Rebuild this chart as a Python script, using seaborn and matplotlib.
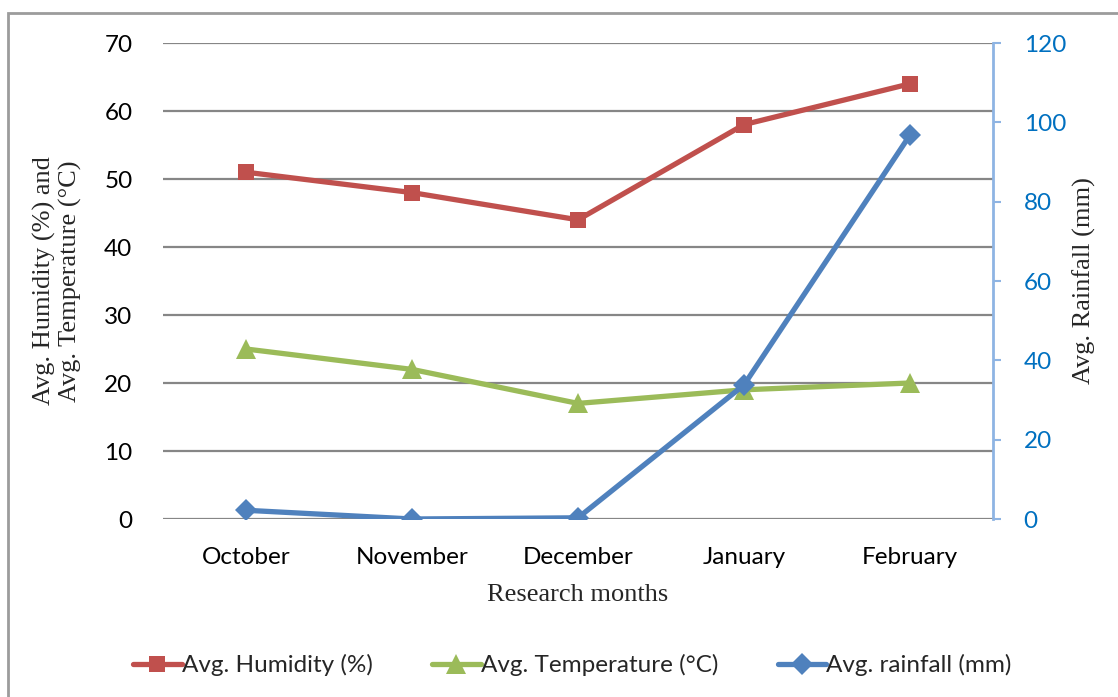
import matplotlib
matplotlib.use("Agg")
import matplotlib.pyplot as plt
import seaborn as sns
import pandas as pd
from matplotlib.patches import Rectangle
from matplotlib.lines import Line2D

months = ["October", "November", "December", "January", "February"]
humidity = [51, 48, 44, 58, 64]
temperature = [25, 22, 17, 19, 20]
rainfall = [2.2, 0.0, 0.3, 33.8, 96.8]

left_ticks = [0, 10, 20, 30, 40, 50, 60, 70]
right_ticks = [0, 20, 40, 60, 80, 100, 120]

RED = "#C0504D"
GREEN = "#9BBB59"
BLUE = "#4F81BD"

sns.set_theme(style="white")
plt.rcParams["font.family"] = ["Lato", "DejaVu Sans"]

df = pd.DataFrame({"month": months, "humidity": humidity,
                   "temperature": temperature, "rainfall": rainfall})

fig = plt.figure(figsize=(11.18, 6.97), dpi=100)
ax = fig.add_axes([163/1118, 1-519/697, 830/1118, 476/697])
ax2 = ax.twinx()

sns.lineplot(data=df, x="month", y="humidity", ax=ax, color=RED, lw=3.8,
             marker="s", markersize=12, markeredgewidth=0, sort=False, zorder=3)
sns.lineplot(data=df, x="month", y="temperature", ax=ax, color=GREEN, lw=3.8,
             marker="^", markersize=14, markeredgewidth=0, sort=False, zorder=3)
sns.lineplot(data=df, x="month", y="rainfall", ax=ax2, color=BLUE, lw=3.8,
             marker="D", markersize=11, markeredgewidth=0, sort=False, zorder=3)

ax.set_xlim(-0.5, 4.5)
ax.set_ylim(0, 70)
ax.set_yticks(left_ticks)
ax2.set_ylim(0, 120)
ax2.set_yticks(right_ticks)

ax.grid(axis="y", color="#868686", lw=1.6)
ax.set_axisbelow(True)
for s in ["top", "right", "left", "bottom"]:
    ax.spines[s].set_visible(False)
    ax2.spines[s].set_visible(False)
ax2.spines["right"].set_visible(True)
ax2.spines["right"].set_color("#8EB4E3")
ax2.spines["right"].set_linewidth(2)

ax.tick_params(axis="y", length=0, pad=22, labelsize=17.5, labelcolor="black")
ax.tick_params(axis="x", length=0, pad=20, labelsize=17.5, labelcolor="black")
ax2.tick_params(axis="y", length=6, width=1.5, color="#8EB4E3", direction="out",
                pad=16, labelsize=17.5, labelcolor="#0070C0", right=True)

serif = ["Liberation Serif", "DejaVu Serif"]
ax.set_xlabel("Research months", family=serif, fontsize=19, labelpad=12)
ax.set_ylabel("Avg. Humidity (%) and\nAvg. Temperature (°C)", family=serif,
              fontsize=19, labelpad=16, linespacing=1.15)
ax2.set_ylabel("Avg. Rainfall (mm)", family=serif, fontsize=19, labelpad=5,
               rotation=90)

handles = [
    Line2D([], [], color=RED, lw=3.8, marker="s", markersize=12, markeredgewidth=0),
    Line2D([], [], color=GREEN, lw=3.8, marker="^", markersize=14, markeredgewidth=0),
    Line2D([], [], color=BLUE, lw=3.8, marker="D", markersize=11, markeredgewidth=0),
]
labels = ["Avg. Humidity (%)", "Avg. Temperature (°C)", "Avg. rainfall (mm)"]
fig.legend(handles, labels, loc="center", bbox_to_anchor=(0.512, 1-665/697),
           ncol=3, frameon=False, fontsize=17.5, handlelength=2.0,
           handletextpad=0.0, columnspacing=2.45)

fig.patches.append(Rectangle((8/1118, -0.01), 1.2, 1-13/697+0.01,
                             transform=fig.transFigure, fill=False,
                             edgecolor="#9C9C9C", lw=2))

fig.savefig("out.png", dpi=100)
